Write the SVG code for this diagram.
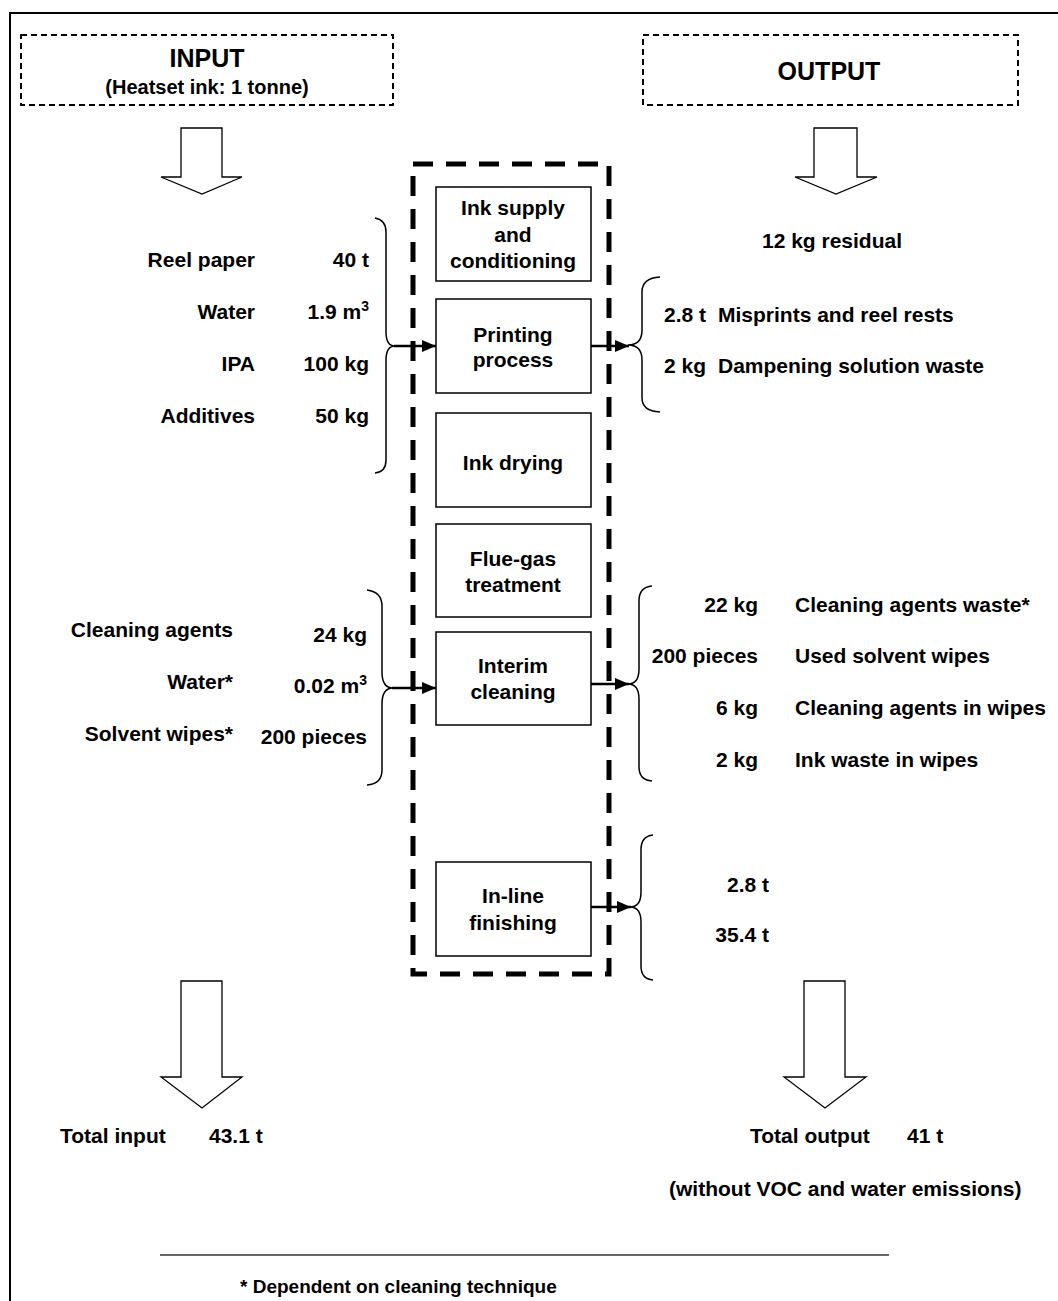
<svg xmlns="http://www.w3.org/2000/svg" width="1058" height="1301" viewBox="0 0 1058 1301">
<defs>
<marker id="ah" markerWidth="14" markerHeight="12" refX="14" refY="6" orient="auto" markerUnits="userSpaceOnUse">
<path d="M0,0 L14,6 L0,12 Z" fill="#000"/>
</marker>
<style>
text{font-family:"Liberation Sans",Arial,sans-serif;font-weight:bold;fill:#000;font-size:21px}
.hdr{stroke:#000;stroke-width:2;fill:none;stroke-dasharray:6 4}
.big{font-size:25px}
.box{fill:#fff;stroke:#000;stroke-width:1.5}
.c{text-anchor:middle}
.r{text-anchor:end}
.hollow{fill:#fff;stroke:#000;stroke-width:1.3}
.brace{fill:none;stroke:#000;stroke-width:1.5}
.flow{stroke:#000;stroke-width:2.5;fill:none}
.sup{font-size:14px}
</style>
</defs>
<rect x="0" y="0" width="1058" height="1301" fill="#fff"/>
<rect x="10" y="13" width="1100" height="1400" fill="none" stroke="#000" stroke-width="2"/>

<g id="input-header">
<rect class="hdr" x="21" y="35" width="372" height="70"/>
<text class="big c" x="207" y="67">INPUT</text>
<text class="c" x="207" y="94" style="font-size:20px">(Heatset ink: 1 tonne)</text>
</g>
<g id="output-header">
<rect class="hdr" x="643" y="35" width="375" height="70"/>
<text class="big c" x="829" y="80">OUTPUT</text>
</g>

<g id="arrows-hollow">
<polygon class="hollow" points="181,128 222,128 222,177 242,177 202,194 161,177 181,177"/>
<polygon class="hollow" points="814,128 857,128 857,177 877,177 836,194 795,177 814,177"/>
<polygon class="hollow" points="181,981 222,981 222,1077 242,1077 202,1108 161,1077 181,1077"/>
<polygon class="hollow" points="804,981 845,981 845,1077 866,1077 825,1108 784,1077 804,1077"/>
</g>

<g id="system-boundary">
<rect x="413" y="164" width="196" height="810" fill="none" stroke="#000" stroke-width="5" stroke-dasharray="20 13"/>
</g>

<g id="node-ink-supply">
<rect class="box" x="436" y="187" width="155" height="94"/>
<text class="c" x="513" y="215">Ink supply</text>
<text class="c" x="513" y="242">and</text>
<text class="c" x="513" y="268">conditioning</text>
</g>
<g id="node-printing">
<rect class="box" x="436" y="299" width="155" height="94"/>
<text class="c" x="513" y="342">Printing</text>
<text class="c" x="513" y="367">process</text>
</g>
<g id="node-ink-drying">
<rect class="box" x="436" y="413" width="155" height="94"/>
<text class="c" x="513" y="470">Ink drying</text>
</g>
<g id="node-flue-gas">
<rect class="box" x="436" y="524" width="155" height="93"/>
<text class="c" x="513" y="566">Flue-gas</text>
<text class="c" x="513" y="592">treatment</text>
</g>
<g id="node-interim">
<rect class="box" x="436" y="632" width="155" height="93"/>
<text class="c" x="513" y="673">Interim</text>
<text class="c" x="513" y="699">cleaning</text>
</g>
<g id="node-inline">
<rect class="box" x="436" y="862" width="155" height="94"/>
<text class="c" x="513" y="903">In-line</text>
<text class="c" x="513" y="930">finishing</text>
</g>

<g id="connectors">
<path class="brace" d="M375,218 Q386,220 386,232 L386,332 Q386,346 395,346 Q386,346 386,360 L386,460 Q386,472 375,473"/>
<line class="flow" x1="394" y1="346" x2="436" y2="346" marker-end="url(#ah)"/>
<path class="brace" d="M367,590 Q382,592 382,606 L382,672 Q382,688 393,688 Q382,688 382,704 L382,770 Q382,784 367,785"/>
<line class="flow" x1="392" y1="688" x2="436" y2="688" marker-end="url(#ah)"/>
<path class="brace" d="M660,277 Q642,278 642,292 L642,330 Q642,345 628,345 Q642,345 642,360 L642,398 Q642,411 660,412"/>
<line class="flow" x1="591" y1="346" x2="629" y2="346" marker-end="url(#ah)"/>
<path class="brace" d="M652,586 Q639,587 639,601 L639,669 Q639,684 628,684 Q639,684 639,699 L639,767 Q639,780 652,781"/>
<line class="flow" x1="591" y1="684" x2="629" y2="684" marker-end="url(#ah)"/>
<path class="brace" d="M653,835 Q641,836 641,850 L641,892 Q641,907 630,907 Q641,907 641,922 L641,966 Q641,979 653,980"/>
<line class="flow" x1="591" y1="907" x2="631" y2="907" marker-end="url(#ah)"/>
</g>

<g id="inputs-printing">
<text class="r" x="255" y="267">Reel paper</text>
<text class="r" x="369" y="267">40 t</text>
<text class="r" x="255" y="319">Water</text>
<text class="r" x="369" y="319">1.9 m<tspan class="sup" dy="-8">3</tspan></text>
<text class="r" x="255" y="371">IPA</text>
<text class="r" x="369" y="371">100 kg</text>
<text class="r" x="255" y="423">Additives</text>
<text class="r" x="369" y="423">50 kg</text>
</g>

<g id="inputs-cleaning">
<text class="r" x="233" y="637">Cleaning agents</text>
<text class="r" x="367" y="642">24 kg</text>
<text class="r" x="233" y="689">Water*</text>
<text class="r" x="367" y="693">0.02 m<tspan class="sup" dy="-8">3</tspan></text>
<text class="r" x="233" y="741">Solvent wipes*</text>
<text class="r" x="367" y="744">200 pieces</text>
</g>

<g id="outputs">
<text class="c" x="832" y="248">12 kg residual</text>
<text x="664" y="322">2.8 t</text>
<text x="718" y="322">Misprints and reel rests</text>
<text x="664" y="373">2 kg</text>
<text x="718" y="373">Dampening solution waste</text>
<text class="r" x="758" y="612">22 kg</text>
<text x="795" y="612">Cleaning agents waste*</text>
<text class="r" x="758" y="663">200 pieces</text>
<text x="795" y="663">Used solvent wipes</text>
<text class="r" x="758" y="715">6 kg</text>
<text x="795" y="715">Cleaning agents in wipes</text>
<text class="r" x="758" y="767">2 kg</text>
<text x="795" y="767">Ink waste in wipes</text>
<text class="r" x="769" y="892">2.8 t</text>
<text class="r" x="769" y="942">35.4 t</text>
</g>

<g id="totals">
<text x="60" y="1143">Total input</text>
<text x="209" y="1143">43.1 t</text>
<text x="750" y="1143">Total output</text>
<text x="907" y="1143">41 t</text>
<text x="669" y="1196">(without VOC and water emissions)</text>
</g>

<g id="footnote">
<line x1="160" y1="1255" x2="889" y2="1255" stroke="#333" stroke-width="1.5"/>
<text x="240" y="1293" style="font-size:19px">* Dependent on cleaning technique</text>
</g>
</svg>
